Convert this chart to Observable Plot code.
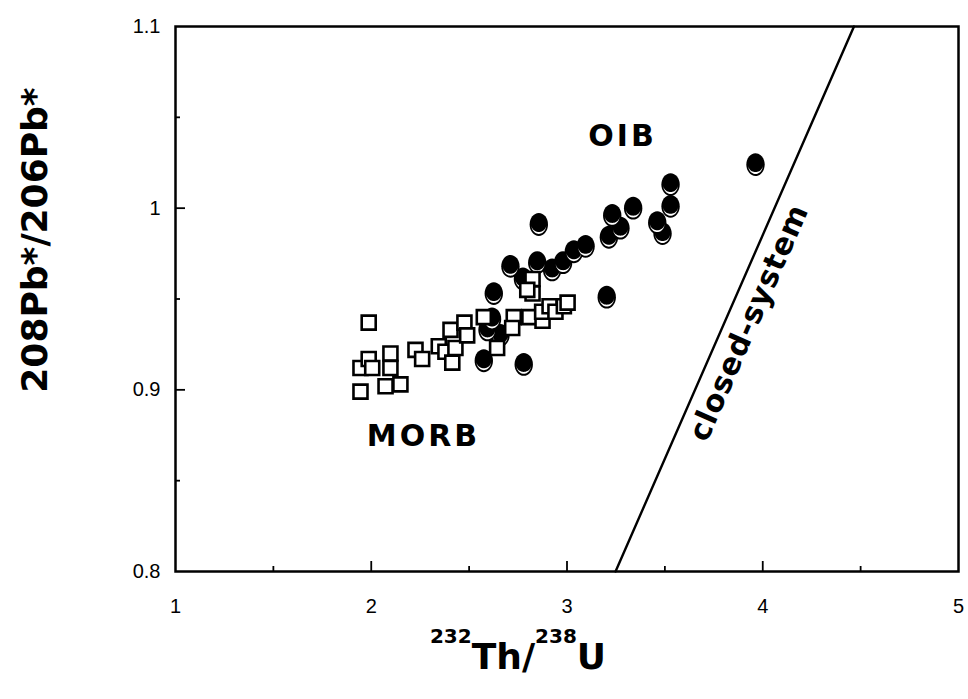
<!DOCTYPE html>
<html>
<head>
<meta charset="utf-8">
<script src="https://cdn.jsdelivr.net/npm/d3@7"></script>
<script src="https://cdn.jsdelivr.net/npm/@observablehq/plot@0.6"></script>
<style>
  html, body { margin: 0; padding: 0; background: #fff; }
  #chart { width: 968px; height: 699px; }
</style>
</head>
<body>
<div id="chart"></div>
<script>
// MORB samples (open squares): 232Th/238U and 208Pb*/206Pb*
const morbTh = [1.987, 1.945, 1.987, 2.005, 2.098, 2.098, 1.945, 2.073, 2.149, 2.226, 2.260,
                2.345, 2.379, 2.414, 2.405, 2.430, 2.476, 2.490, 2.575, 2.643, 2.728, 2.720,
                2.824, 2.824, 2.797, 2.808, 2.875, 2.873, 2.911, 2.941, 2.984, 3.003];
const morbPb = [0.937, 0.912, 0.917, 0.912, 0.920, 0.912, 0.899, 0.902, 0.903, 0.922, 0.917,
                0.924, 0.921, 0.915, 0.933, 0.923, 0.937, 0.930, 0.940, 0.923, 0.940, 0.934,
                0.961, 0.953, 0.955, 0.940, 0.938, 0.943, 0.946, 0.943, 0.946, 0.948];

// OIB samples (filled ovals)
const oibTh = [2.856, 2.711, 2.848, 2.775, 2.924, 2.980, 3.035, 3.095, 3.231, 3.273, 3.214, 3.338,
               3.529, 3.529, 3.461, 3.488, 3.203, 2.626, 2.617, 2.594, 2.660, 2.575, 2.779, 3.963];
const oibPb = [0.991, 0.968, 0.970, 0.961, 0.966, 0.970, 0.976, 0.979, 0.996, 0.989, 0.984, 1.000,
               1.013, 1.001, 0.992, 0.986, 0.951, 0.953, 0.939, 0.933, 0.930, 0.916, 0.914, 1.024];

// Closed-system evolution line
const closedTh = [3.248, 4.466];
const closedPb = [0.8, 1.1];

// Axis ticks
const xTicks = [1, 2, 3, 4, 5];
const xMajor = [2, 3, 4];
const xMinor = [1.5, 2.5, 3.5, 4.5];
const yTicks = [0.8, 0.9, 1, 1.1];
const yMajor = [0.9, 1];
const yMinor = [0.85, 0.95, 1.05];

// In-plot labels
const labels = [
  {text: "OIB", x: 3.284, y: 1.0397, rotate: 0},
  {text: "MORB", x: 2.267, y: 0.8743, rotate: 0},
  {text: "closed-system", x: 3.930, y: 0.937, rotate: -66.4}
];

const morb = morbTh.map((x, i) => ({x, y: morbPb[i]}));
const oib = oibTh.map((x, i) => ({x, y: oibPb[i]}));
const closed = closedTh.map((x, i) => ({x, y: closedPb[i]}));

const W = 968, H = 699;
const mL = 175, mR = 10, mT = 26, mB = 128;
const plotW = W - mL - mR, plotH = H - mT - mB;

// Oval symbol with a light crescent near its lower rim
const K = 0.5523;
function ellipse(ctx, rx, ry, cy) {
  ctx.moveTo(rx, cy);
  ctx.bezierCurveTo(rx, cy + K * ry, K * rx, cy + ry, 0, cy + ry);
  ctx.bezierCurveTo(-K * rx, cy + ry, -rx, cy + K * ry, -rx, cy);
  ctx.bezierCurveTo(-rx, cy - K * ry, -K * rx, cy - ry, 0, cy - ry);
  ctx.bezierCurveTo(K * rx, cy - ry, rx, cy - K * ry, rx, cy);
  ctx.closePath();
}
const ovalBody = {draw(ctx) { ellipse(ctx, 9.2, 11.4, 0); }};
const ovalCrescent = {draw(ctx) {
  const rx = 7.4, c = 0.6, ro = 8.8, ri = 6.9, n = 24;
  ctx.moveTo(-rx, c);
  for (let i = 1; i <= n; ++i) {
    const t = Math.PI - Math.PI * i / n;
    ctx.lineTo(rx * Math.cos(t), c + ro * Math.sin(t));
  }
  for (let i = n; i >= 0; --i) {
    const t = Math.PI - Math.PI * i / n;
    ctx.lineTo(rx * Math.cos(t), c + ri * Math.sin(t));
  }
  ctx.closePath();
}};

const bold = "'DejaVu Sans', sans-serif";
const tickFont = "'Liberation Sans Narrow', 'Arial Narrow', 'Liberation Sans', Arial, sans-serif";

const chart = Plot.plot({
  width: W,
  height: H,
  marginLeft: mL,
  marginRight: mR,
  marginTop: mT,
  marginBottom: mB,
  x: {domain: [1, 5], axis: null},
  y: {domain: [0.8, 1.1], axis: null},
  style: {fontFamily: tickFont, fontSize: "20px", color: "black", background: "white", overflow: "visible"},
  marks: [
    // inward tick marks
    Plot.ruleX(xMajor, {x: d => d, insetTop: plotH - 10, stroke: "black", strokeWidth: 1.8}),
    Plot.ruleX(xMinor, {x: d => d, insetTop: plotH - 5, stroke: "black", strokeWidth: 1.8}),
    Plot.ruleY(yMajor, {y: d => d, insetRight: plotW - 10, stroke: "black", strokeWidth: 1.8}),
    Plot.ruleY(yMinor, {y: d => d, insetRight: plotW - 5, stroke: "black", strokeWidth: 1.8}),
    Plot.axisX(xTicks, {tickSize: 0, tickPadding: 27, tickFormat: d => String(d), label: null, fontSize: 20}),
    Plot.axisY(yTicks, {tickSize: 0, tickPadding: 15, tickFormat: d => String(d), label: null, fontSize: 20}),
    Plot.line(closed, {x: "x", y: "y", stroke: "black", strokeWidth: 2.4}),
    Plot.dot(oib, {x: "x", y: "y", symbol: ovalBody, r: 10, fill: "black", stroke: "none"}),
    Plot.dot(oib, {x: "x", y: "y", symbol: ovalCrescent, r: 8, fill: "white", stroke: "none"}),
    Plot.dot(morb, {x: "x", y: "y", symbol: "square", r: 7.9, fill: "white", stroke: "black", strokeWidth: 2.6}),
    Plot.text(labels, {x: "x", y: "y", text: "text", rotate: "rotate", fontSize: 30, fontWeight: "bold",
                       fontFamily: bold, fill: "black"}),
    Plot.frame({stroke: "black", strokeWidth: 2.5})
  ]
});

document.getElementById("chart").appendChild(chart);

const svg = d3.select(chart);
svg.selectAll('g[aria-label="x-axis tick label"], g[aria-label="y-axis tick label"]')
  .attr("font-size", 20)
  .attr("font-family", tickFont);
svg.selectAll("text").filter(function() { return this.textContent === "MORB" || this.textContent === "OIB"; })
  .style("letter-spacing", "3px");
svg.selectAll("text").filter(function() { return this.textContent === "closed-system"; })
  .style("letter-spacing", "1px");

// y-axis title
svg.append("text")
  .attr("transform", "translate(47,240) rotate(-90)")
  .attr("text-anchor", "middle")
  .attr("font-family", bold)
  .attr("font-weight", "bold")
  .attr("font-size", 36)
  .attr("fill", "black")
  .text("208Pb*/206Pb*");

// x-axis title with superscript mass numbers
const xt = svg.append("text")
  .attr("x", 518)
  .attr("y", 669)
  .attr("text-anchor", "middle")
  .attr("font-family", bold)
  .attr("font-weight", "bold")
  .attr("font-size", 36)
  .attr("fill", "black");
xt.append("tspan").attr("font-size", 20).attr("dy", -26).text("232");
xt.append("tspan").attr("dy", 26).text("Th/");
xt.append("tspan").attr("font-size", 20).attr("dy", -26).text("238");
xt.append("tspan").attr("dy", 26).text("U");
</script>
</body>
</html>
